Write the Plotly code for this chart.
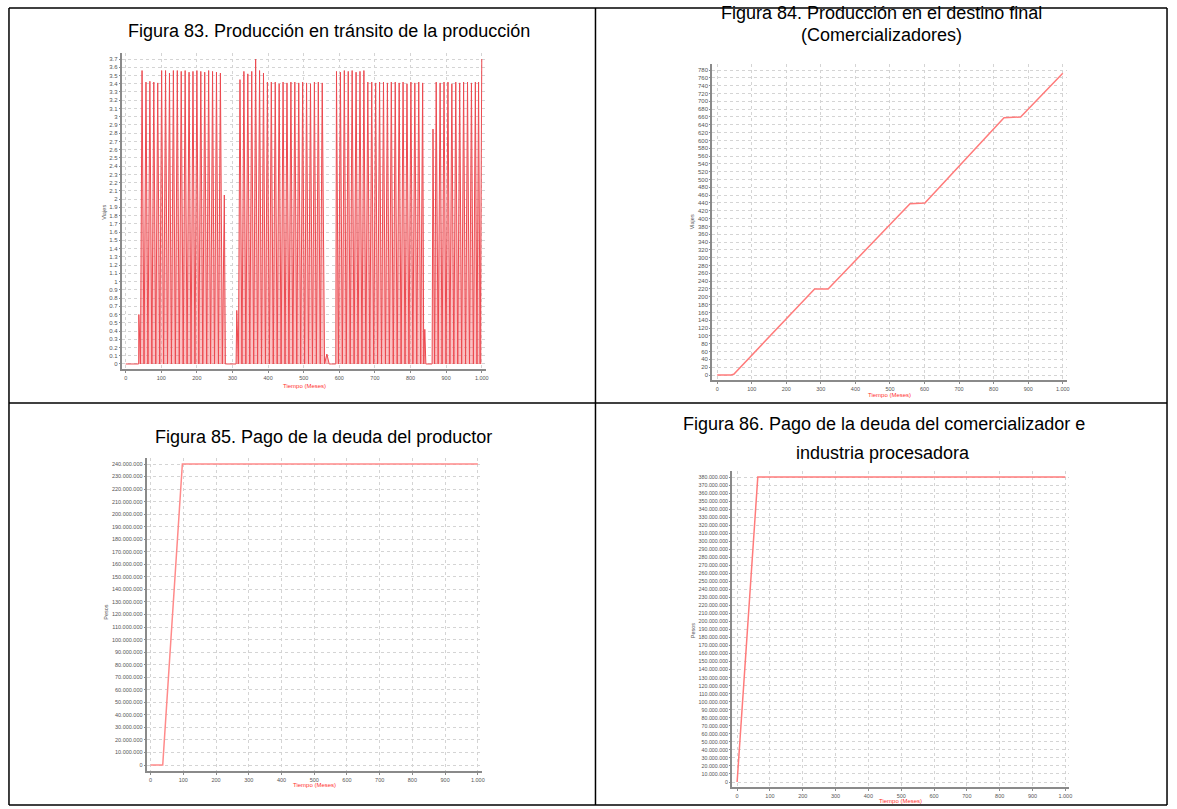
import plotly.graph_objects as go

W, H = 1177, 809

# ---------------- data ----------------
meses_ticks = [0, 100, 200, 300, 400, 500, 600, 700, 800, 900, 1000]

# Figura 83: peaks of trips in transit (month, trips); a zero lies between consecutive points
picos_mes = [0, 36, 37, 46, 57, 68, 79, 90, 101, 112, 123, 134, 145, 156, 167, 178, 189, 200,
             211, 222, 233, 244, 255, 266, 277, 283, 308,
             312, 321, 332, 343, 354, 365, 376, 387, 398, 409, 420, 431, 442, 453, 464, 475,
             486, 497, 508, 519, 530, 541, 552, 565, 578, 588,
             592, 603, 614, 625, 636, 647, 658, 669, 680, 691, 702, 713, 724, 735, 746, 757,
             768, 779, 790, 801, 812, 823, 834, 840, 846, 858,
             863, 872, 883, 894, 905, 916, 927, 938, 949, 960, 971, 982, 991, 1000]
picos_viajes = [0, 0, 0.6, 3.56, 3.42, 3.43, 3.42, 3.41, 3.56, 3.56, 3.53, 3.56, 3.56, 3.55,
                3.56, 3.54, 3.55, 3.56, 3.55, 3.54, 3.56, 3.55, 3.54, 3.53, 2.05, 0, 0,
                0.65, 3.45, 3.55, 3.52, 3.55, 3.7, 3.56, 3.53, 3.42, 3.42, 3.42, 3.4, 3.42,
                3.41, 3.42, 3.42, 3.41, 3.42, 3.41, 3.4, 3.42, 3.42, 3.41, 0.12, 0, 0,
                3.55, 3.54, 3.56, 3.55, 3.56, 3.54, 3.55, 3.56, 3.42, 3.42, 3.41, 3.42, 3.42,
                3.41, 3.42, 3.42, 3.41, 3.42, 3.4, 3.42, 3.41, 3.42, 3.41, 0.42, 0, 0,
                2.85, 3.42, 3.41, 3.42, 3.42, 3.4, 3.42, 3.41, 3.42, 3.42, 3.41, 3.42, 3.42, 3.7]

# Figura 84: cumulative production at the final destination
destino_mes = [0, 40, 48, 282, 321, 558, 601, 830, 878, 1000]
destino_viajes = [0, 0, 2, 220, 220, 438, 440, 658, 660, 772]

# Figura 85: producer debt payment (pesos)
productor_mes = [0, 37, 97, 1000]
productor_pesos = [0, 0, 240_000_000, 240_000_000]

# Figura 86: trader / processing industry debt payment (pesos)
comercial_mes = [0, 63, 1000]
comercial_pesos = [0, 380_000_000, 380_000_000]

# ---------------- helpers ----------------
def px_x(x):
    return x / W


def px_y(y):
    return 1 - y / H


def miles(v):
    s = f"{int(round(v)):,}"
    return s.replace(",", ".")


def decimal_label(v):
    r = round(v, 1)
    return str(int(r)) if abs(r - int(r)) < 1e-9 else f"{r:.1f}"


# build the sawtooth for Figura 83
t83, v83 = [], []
for i, (m, v) in enumerate(zip(picos_mes, picos_viajes)):
    if i > 0:
        t83.append((picos_mes[i - 1] + m) / 2)
        v83.append(0)
    t83.append(m)
    v83.append(v)

LINE = "#ec4a50"
FONT_FAMILY = "Liberation Sans, Arial"
GRID = "#d4d4d4"


def tick_font(size):
    return dict(family=FONT_FAMILY, size=size, color="#555555")


fig = go.Figure()

fig.add_trace(go.Scatter(x=t83, y=v83, mode="lines", line=dict(color=LINE, width=1),
                         fill="tozeroy", fillcolor="rgba(245,115,120,0.45)",
                         xaxis="x", yaxis="y", showlegend=False))
fig.add_trace(go.Scatter(x=destino_mes, y=destino_viajes, mode="lines",
                         line=dict(color="#ff7b7b", width=1.5),
                         xaxis="x2", yaxis="y2", showlegend=False))
fig.add_trace(go.Scatter(x=productor_mes, y=productor_pesos, mode="lines",
                         line=dict(color="#ff8a8a", width=1.5),
                         xaxis="x3", yaxis="y3", showlegend=False))
fig.add_trace(go.Scatter(x=comercial_mes, y=comercial_pesos, mode="lines",
                         line=dict(color="#ff7b7b", width=1.5),
                         xaxis="x4", yaxis="y4", showlegend=False))

x_labels = [miles(m) for m in meses_ticks]


def xaxis(dom, rng, anchor):
    return dict(domain=[px_x(dom[0]), px_x(dom[1])], range=rng, anchor=anchor,
                tickvals=meses_ticks, ticktext=x_labels, tickfont=tick_font(5.5),
                showgrid=True, gridcolor=GRID, griddash="dot", gridwidth=1,
                showline=True, linecolor="#8a8a8a", linewidth=2,
                ticks="outside", ticklen=2, tickcolor="#8a8a8a", zeroline=False)


def yaxis(dom, rng, anchor, vals, texts, size):
    return dict(domain=[px_y(dom[1]), px_y(dom[0])], range=rng, anchor=anchor,
                tickvals=vals, ticktext=texts, tickfont=tick_font(size),
                showgrid=True, gridcolor=GRID, griddash="dot", gridwidth=1,
                showline=True, linecolor="#8a8a8a", linewidth=2,
                ticks="outside", ticklen=1, tickcolor="#8a8a8a", zeroline=False)


y83_vals = [i / 10 for i in range(0, 38)]
y84_vals = list(range(0, 781, 20))
y85_vals = list(range(0, 240_000_001, 10_000_000))
y86_vals = list(range(0, 380_000_001, 10_000_000))

fig.update_layout(
    width=W, height=H, margin=dict(l=0, r=0, t=0, b=0),
    paper_bgcolor="white", plot_bgcolor="white",
    xaxis=xaxis((122, 487), [-11.2, 1011.2], "y"),
    yaxis=yaxis((53, 369), [-0.061, 3.773], "x", y83_vals,
                [decimal_label(v) for v in y83_vals], 6),
    xaxis2=xaxis((714, 1070), [-14.4, 1013], "y2"),
    yaxis2=yaxis((64, 380), [-12.8, 795.4], "x2", y84_vals, [str(v) for v in y84_vals], 6),
    xaxis3=xaxis((147, 483), [-12.2, 1012], "y3"),
    yaxis3=yaxis((458, 771), [-4.78e6, 244.8e6], "x3", y85_vals,
                 [miles(v) for v in y85_vals], 5.5),
    xaxis4=xaxis((734, 1072), [-15.2, 1012], "y4"),
    yaxis4=yaxis((471, 787), [-6.23e6, 387.5e6], "x4", y86_vals,
                 [miles(v) for v in y86_vals], 5.3),
)

# table borders
shapes = []
for x0, y0, x1, y1 in [(9, 8, 1170, 8), (9, 805, 1170, 805), (9, 8, 9, 805), (1170, 8, 1170, 805),
                       (597, 8, 597, 805), (9, 403, 1170, 403)]:
    shapes.append(dict(type="line", xref="paper", yref="paper",
                       x0=px_x(x0), y0=px_y(y0), x1=px_x(x1), y1=px_y(y1),
                       line=dict(color="black", width=1.5)))
fig.update_layout(shapes=shapes)

TITLE_FONT = dict(family=FONT_FAMILY, size=18, color="black")
SMALL = dict(family=FONT_FAMILY, size=5.5, color="#555555")
RED_SMALL = dict(family=FONT_FAMILY, size=6, color="#ff3030")

notes = [
    (330, 31, "Figura 83. Producción en tránsito de la producción", TITLE_FONT, 0),
    (884, 13, "Figura 84. Producción en el destino final", TITLE_FONT, 0),
    (884, 35, "(Comercializadores)", TITLE_FONT, 0),
    (324, 437, "Figura 85. Pago de la deuda del productor", TITLE_FONT, 0),
    (886, 424, "Figura 86. Pago de la deuda del comercializador e", TITLE_FONT, 0),
    (885, 453, "industria procesadora", TITLE_FONT, 0),
    (104, 212, "Viajes", SMALL, -90),
    (305, 386, "Tiempo (Meses)", RED_SMALL, 0),
    (694, 222, "Viajes", SMALL, -90),
    (892, 395, "Tiempo (Meses)", RED_SMALL, 0),
    (106, 612, "Pesos", SMALL, -90),
    (315, 785, "Tiempo (Meses)", RED_SMALL, 0),
    (695, 630, "Pesos", SMALL, -90),
    (903, 801, "Tiempo (Meses)", RED_SMALL, 0),
]
for x, y, text, font, ang in notes:
    fig.add_annotation(x=px_x(x), y=px_y(y), xref="paper", yref="paper", text=text,
                       showarrow=False, font=font, textangle=ang,
                       xanchor="center", yanchor="middle")

fig.write_html("out.html")
